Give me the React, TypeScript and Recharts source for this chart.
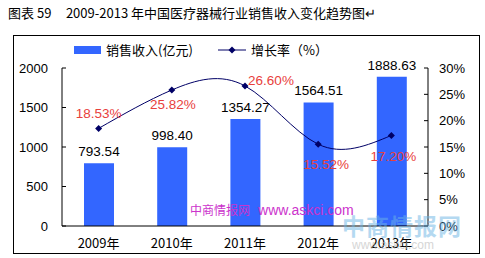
import React from "react";
import { ComposedChart, Bar, Line, XAxis, YAxis, LabelList } from "recharts";

const years = ["2009年", "2010年", "2011年", "2012年", "2013年"];
const revenue = [793.54, 998.4, 1354.27, 1564.51, 1888.63];
const growth = [18.53, 25.82, 26.6, 15.52, 17.2];
const leftTicks = [0, 500, 1000, 1500, 2000];
const rightTicks = [0, 5, 10, 15, 20, 25, 30];
const boundaryTicks = [1, 2, 3, 4];

const data = years.map((y, i) => ({ year: y, revenue: revenue[i], growth: growth[i] }));

const CJK = '"Noto Sans CJK SC", "Liberation Sans", sans-serif';
const ARIAL = '"Liberation Sans", Arial, sans-serif';
const BLUE = "#3366ff";
const NAVY = "#000066";
const RED = "#e8403c";

// label offsets for the growth values
const growthOffsets = [
  [0, -15],
  [1, 14],
  [26, -5],
  [8, 20],
  [2, 21],
];

const Diamond = (props: any) => {
  const { cx, cy } = props;
  if (cx == null || cy == null) return null;
  return <polygon points={`${cx},${cy - 3.5} ${cx + 3.5},${cy} ${cx},${cy + 3.5} ${cx - 3.5},${cy}`} fill={NAVY} />;
};

const GrowthLabel = (props: any) => {
  const { x, y, index, value } = props;
  const [dx, dy] = growthOffsets[index] || [0, 0];
  return (
    <text x={x + dx} y={y + dy} fill={RED} fontSize={13.5} fontFamily={ARIAL} textAnchor="middle" dominantBaseline="central">
      {value.toFixed(2)}%
    </text>
  );
};

export default function App() {
  return (
    <div style={{ position: "absolute", left: 0, top: 0, width: 485, height: 258, background: "#fff", overflow: "hidden" }}>
      <div style={{ position: "absolute", left: 8, top: 4, fontFamily: CJK, fontSize: 13, whiteSpace: "pre", color: "#000", lineHeight: "18px" }}>
        {"图表 59     2009-2013 年中国医疗器械行业销售收入变化趋势图↵"}
      </div>
      <div style={{ position: "absolute", left: 13, top: 35, width: 465, height: 217, border: "1px solid #000" }} />
      <div style={{ position: "absolute", left: 74, top: 46, width: 27, height: 8, background: BLUE }} />
      <div style={{ position: "absolute", left: 106, top: 41, fontFamily: CJK, fontSize: 13, lineHeight: "18px", color: "#000" }}>
        销售收入(亿元)
      </div>
      <svg style={{ position: "absolute", left: 215, top: 44 }} width={34} height={12}>
        <line x1={3} y1={6} x2={31} y2={6} stroke={NAVY} strokeWidth={1} />
        <polygon points="17,2.5 20.5,6 17,9.5 13.5,6" fill={NAVY} />
      </svg>
      <div style={{ position: "absolute", left: 251, top: 41, fontFamily: CJK, fontSize: 13, lineHeight: "18px", color: "#000" }}>
        增长率（%）
      </div>
      <ComposedChart
        width={485}
        height={258}
        data={data}
        margin={{ top: 68, right: 0, bottom: 0, left: 0 }}
        style={{ position: "absolute", left: 0, top: 0 }}
      >
        <XAxis
          dataKey="year"
          xAxisId="cat"
          height={32}
          tickLine={false}
          tickSize={0}
          tickMargin={13}
          axisLine={{ stroke: "#000" }}
          tick={{ fill: "#000", fontSize: 13, fontFamily: CJK }}
        />
        <XAxis
          xAxisId="bounds"
          type="number"
          domain={[0, 5]}
          ticks={boundaryTicks}
          height={0}
          axisLine={false}
          tick={false}
          tickSize={-4}
          tickLine={{ stroke: "#000" }}
        />
        <YAxis
          yAxisId="left"
          width={62}
          domain={[0, 2000]}
          ticks={leftTicks}
          tickSize={-4}
          tickMargin={18}
          axisLine={{ stroke: "#000" }}
          tickLine={{ stroke: "#000" }}
          tick={{ fill: "#000", fontSize: 13, fontFamily: ARIAL }}
        />
        <YAxis
          yAxisId="right"
          orientation="right"
          width={57}
          domain={[0, 30]}
          ticks={rightTicks}
          tickFormatter={(v: number) => `${v}%`}
          tickSize={-4}
          tickMargin={15}
          axisLine={{ stroke: "#000" }}
          tickLine={{ stroke: "#000" }}
          tick={{ fill: "#000", fontSize: 13, fontFamily: ARIAL, textAnchor: "start" }}
        />
        <Bar dataKey="revenue" xAxisId="cat" yAxisId="left" fill={BLUE} barSize={30} isAnimationActive={false}>
          <LabelList
            dataKey="revenue"
            position="top"
            offset={7}
            formatter={(v: number) => v.toFixed(2)}
            style={{ fill: "#000", fontSize: 13.5, fontFamily: ARIAL }}
          />
        </Bar>
        <Line
          dataKey="growth"
          xAxisId="cat"
          yAxisId="right"
          type="natural"
          stroke={NAVY}
          strokeWidth={1}
          dot={<Diamond />}
          activeDot={false}
          isAnimationActive={false}
        >
          <LabelList dataKey="growth" content={<GrowthLabel />} />
        </Line>
      </ComposedChart>
      <div style={{ position: "absolute", left: 190, top: 202, fontFamily: CJK, fontSize: 12, color: "#cc33cc", whiteSpace: "pre", lineHeight: "16px" }}>
        {"中商情报网   "}
        <span style={{ fontFamily: ARIAL, fontSize: 14 }}>www.askci.com</span>
      </div>
      <div style={{ position: "absolute", left: 342, top: 211, fontFamily: CJK, fontSize: 23, fontWeight: 700, color: "#6cb4e4", opacity: 0.5, lineHeight: "28px", letterSpacing: 1 }}>
        中商情报网
      </div>
      <div style={{ position: "absolute", left: 352, top: 238, fontFamily: ARIAL, fontSize: 12, color: "#bbb", opacity: 0.6, lineHeight: "14px" }}>
        www.askci.com
      </div>
    </div>
  );
}
